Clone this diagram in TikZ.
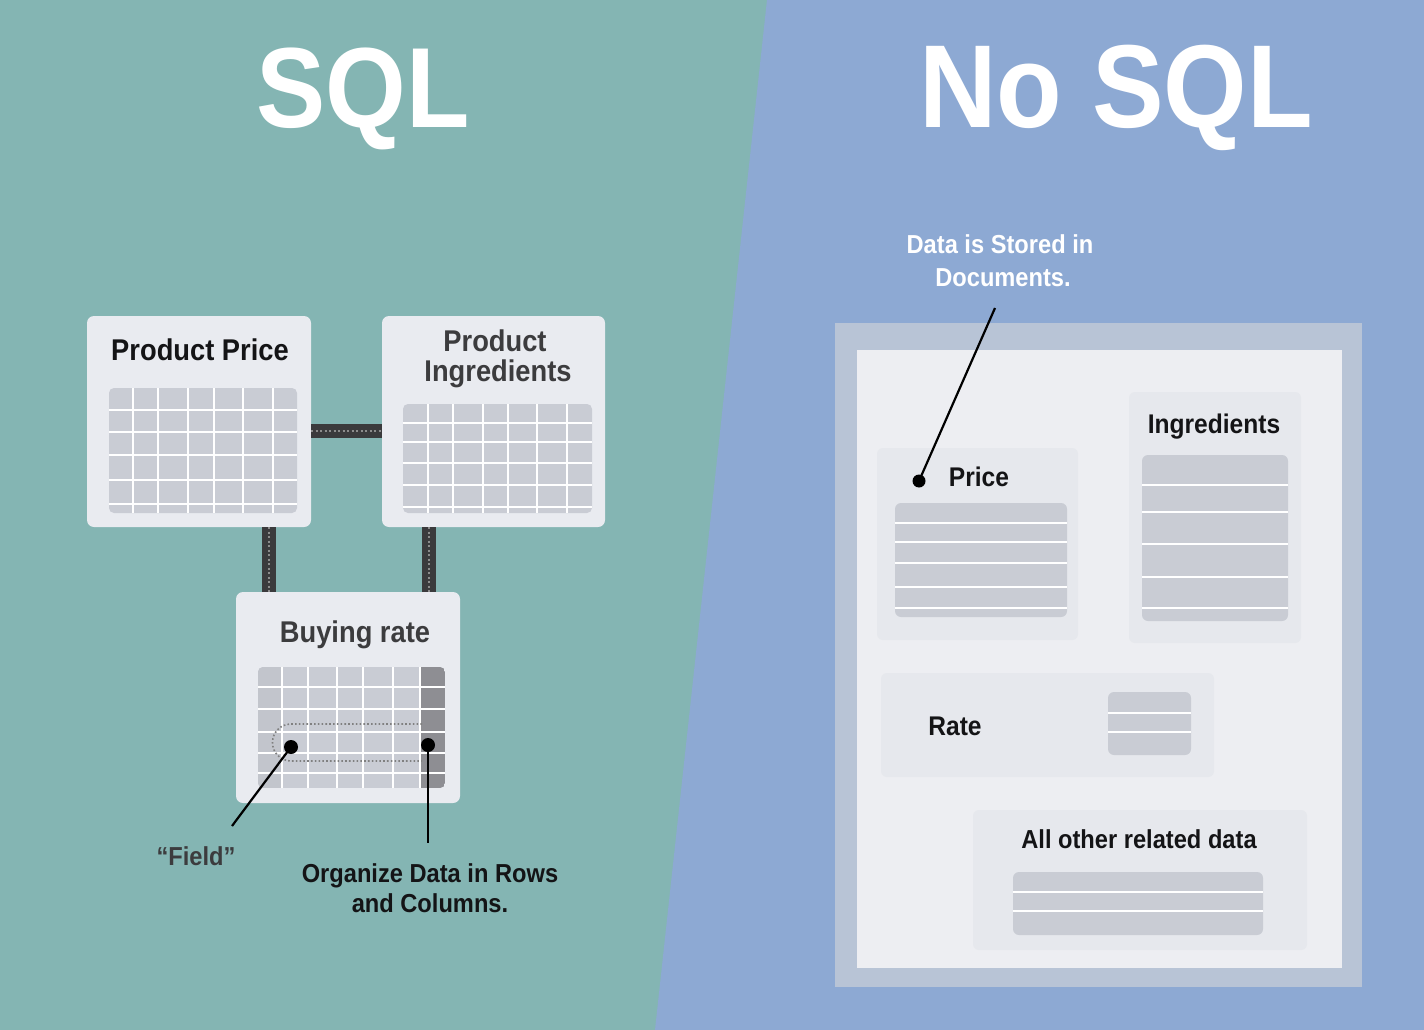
\documentclass[tikz,border=0pt]{standalone}
\usepackage{graphicx}
\usepackage{fontspec}
\setmainfont{Liberation Sans}[FakeStretch=0.91]

\definecolor{sqlbg}{RGB}{132,181,179}
\definecolor{nosqlbg}{RGB}{141,169,211}
\definecolor{card}{RGB}{233,235,240}
\definecolor{cell}{RGB}{201,204,212}
\definecolor{celldk}{RGB}{194,197,204}
\definecolor{colhl}{RGB}{142,142,147}
\definecolor{barc}{RGB}{58,58,60}
\definecolor{ringc}{RGB}{184,196,214}
\definecolor{sheet}{RGB}{237,238,242}
\definecolor{docc}{RGB}{230,232,237}
\definecolor{inkdark}{RGB}{20,20,22}
\definecolor{inkgray}{RGB}{60,60,62}

\newcommand{\sqlgrid}[6]{%
  \fill[cell, rounded corners=5] (#1,#2) rectangle (#3,#4);
  \foreach \c in {#5} \draw[gridline] (\c,#2) -- (\c,#4);
  \foreach \r in {#6} \draw[gridline] (#1,\r) -- (#3,\r);
}
\newcommand{\docrows}[5]{%
  \fill[cell, rounded corners=6] (#1,#2) rectangle (#3,#4);
  \foreach \r in {#5} \draw[gridline] (#1,\r) -- (#3,\r);
}

\tikzset{
  cardbox/.style={fill=card, rounded corners=7, inner sep=0pt, draw=none},
  docbox/.style={fill=docc, rounded corners=6, inner sep=0pt, draw=none},
  gridline/.style={white, line width=2.6},
  bigtitle/.style={text=white, anchor=base, inner sep=0pt,
    font=\fontsize{114}{114}\selectfont\bfseries},
  cardtitle/.style={anchor=base, inner sep=0pt,
    font=\fontsize{30}{30}\selectfont\bfseries},
  note/.style={anchor=base, inner sep=0pt,
    font=\fontsize{26}{26}\selectfont\bfseries},
  doctitle/.style={anchor=base, inner sep=0pt, text=inkdark,
    font=\fontsize{27}{27}\selectfont\bfseries},
  linkbar/.style={barc, line width=14},
  linkdots/.style={black!45, line width=2, dash pattern=on 2pt off 2.5pt},
  leader/.style={black, line width=2.2},
  pin/.style={black},
}

\begin{document}
\begin{tikzpicture}[x=1pt, y=-1pt]
  \useasboundingbox (0,0) rectangle (1424,1030);

  % two halves split by a slanted edge
  \fill[sqlbg] (0,0) rectangle (1424,1030);
  \fill[nosqlbg] (767,0) -- (1424,0) -- (1424,1030) -- (655,1030) -- cycle;

  % headings
  \node[bigtitle] (tsql) at (363,128) {SQL};
  \node[bigtitle, font=\fontsize{118}{118}\selectfont\bfseries] (tnosql) at (1116,128) {No SQL};

  % ---------------- relational side ----------------
  \node[cardbox, minimum width=224, minimum height=211] (pp) at (199,421.5) {};
  \node[cardbox, minimum width=223, minimum height=211] (pi) at (493.5,421.5) {};
  \node[cardbox, minimum width=224, minimum height=211] (br) at (348,697.5) {};

  % links between the tables
  \draw[linkbar] ([yshift=-9.5]pp.east) -- ([yshift=-9.5]pi.west);
  \draw[linkdots] ([yshift=-9.5]pp.east) -- ([yshift=-9.5]pi.west);
  \draw[linkbar] ([xshift=69.5]pp.south) -- ([xshift=69.5]pp.south |- br.north);
  \draw[linkdots] ([xshift=69.5]pp.south) -- ([xshift=69.5]pp.south |- br.north);
  \draw[linkbar] ([xshift=-65]pi.south) -- ([xshift=-65]pi.south |- br.north);
  \draw[linkdots] ([xshift=-65]pi.south) -- ([xshift=-65]pi.south |- br.north);

  % table titles
  \node[cardtitle, text=inkdark] (ppT) at (200,360) {Product Price};
  \node[cardtitle, text=inkgray] (piT1) at (495,351) {Product};
  \node[cardtitle, text=inkgray] (piT2) at (498,381) {Ingredients};
  \node[cardtitle, text=inkgray] (brT) at (355,642) {Buying rate};

  % table grids
  \sqlgrid{109}{388}{297}{513}{133,158,188,214,243,273}{410,432,455,480,504}
  \sqlgrid{403}{404}{592}{513}{428,453,483,508,537,567}{423,442,463,485,507}

  \begin{scope}
    \clip[rounded corners=5] (258,667) rectangle (445,788);
    \fill[cell] (258,667) rectangle (445,788);
    \fill[celldk] (258,667) rectangle (282,788);
    \fill[colhl] (420,667) rectangle (445,788);
  \end{scope}
  \foreach \c in {282,308,337,363,393,420} \draw[gridline] (\c,667) -- (\c,788);
  \foreach \r in {687,709,732,753,773} \draw[gridline] (258,\r) -- (445,\r);

  % highlighted row
  \draw[black!50, line width=1.6, dash pattern=on 1.6pt off 2.2pt]
    (422,724) -- (291,724) arc[start angle=270, end angle=90, radius=18.5] -- (422,761);

  % callouts
  \coordinate (fdot) at (291,747);
  \coordinate (fend) at (232,826);
  \coordinate (rdot) at (428,745);
  \coordinate (rend) at (428,843);
  \draw[leader] (fdot) -- (fend);
  \draw[leader] (rdot) -- (rend);
  \fill[pin] (fdot) circle (7);
  \fill[pin] (rdot) circle (7);

  \node[note, text=inkgray] (field) at (196,865) {“Field”};
  \node[note, text=inkdark] (org1) at (430,882) {Organize Data in Rows};
  \node[note, text=inkdark] (org2) at (430,912) {and Columns.};

  % ---------------- document side ----------------
  \node[fill=ringc, inner sep=0pt, minimum width=527, minimum height=664] (cont) at (1098.5,655) {};
  \node[fill=sheet, inner sep=0pt, minimum width=485, minimum height=618] (sheet) at (1099.5,659) {};

  \node[docbox, minimum width=201, minimum height=192] (dprice) at (977.5,544) {};
  \node[docbox, minimum width=172, minimum height=251] (ding) at (1215,517.5) {};
  \node[docbox, minimum width=333, minimum height=104] (drate) at (1047.5,725) {};
  \node[docbox, minimum width=334, minimum height=140] (dall) at (1140,880) {};

  \node[doctitle] (dpriceT) at (979,486) {Price};
  \node[doctitle] (dingT) at (1214,433) {Ingredients};
  \node[doctitle] (drateT) at (955,735) {Rate};
  \node[doctitle, font=\fontsize{26}{26}\selectfont\bfseries] (dallT) at (1139,848) {All other related data};

  \docrows{895}{503}{1067}{617}{523,542,563,587,608}
  \docrows{1142}{455}{1288}{621}{485,512,544,577,608}
  \docrows{1108}{692}{1191}{755}{713,732}
  \docrows{1013}{872}{1263}{935}{892,911}

  % note on the documents
  \node[note, text=white] (doc1) at (1000,253) {Data is Stored in};
  \node[note, text=white] (doc2) at (1003,286) {Documents.};
  \coordinate (dtop) at (995,308);
  \coordinate (ddot) at (919,481);
  \draw[leader] (dtop) -- (ddot);
  \fill[pin] (ddot) circle (6.5);
\end{tikzpicture}
\end{document}
